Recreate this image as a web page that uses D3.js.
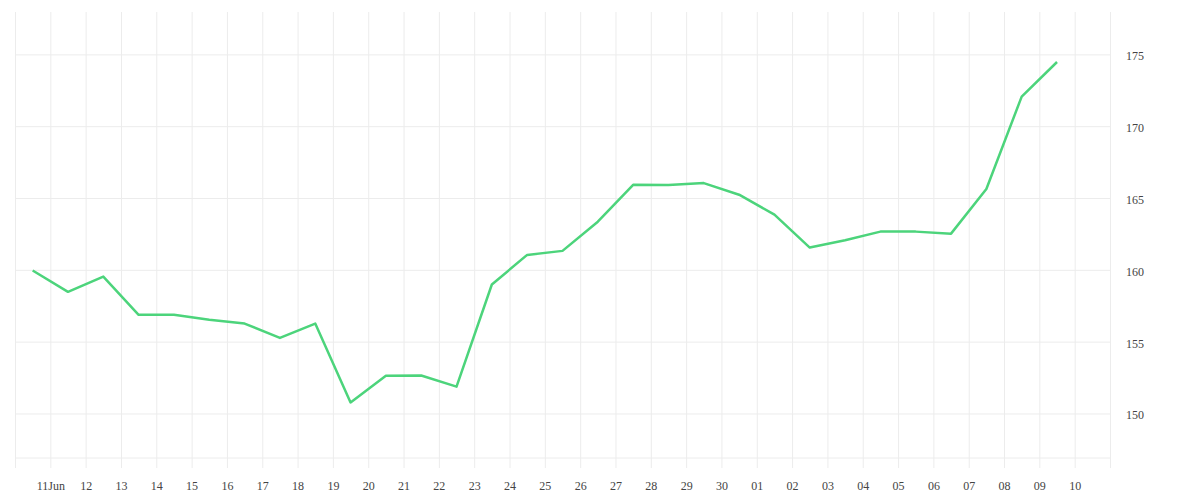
<!DOCTYPE html>
<html>
<head>
<meta charset="utf-8">
<script src="https://cdn.jsdelivr.net/npm/d3@7"></script>
<style>
    body { margin: 0; background: #fff; }
    .axis text { font-family: "Liberation Serif", serif; font-size: 12px; fill: #444; }
    .axis line { stroke: #ececec; stroke-width: 1; }
    .axis path { display: none; }
</style>
</head>
<body>
<div id="chart"></div>
<script>
// daily points, plotted at noon of each day
let days = ["2023-06-10", "2023-06-11", "2023-06-12", "2023-06-13", "2023-06-14", "2023-06-15",
    "2023-06-16", "2023-06-17", "2023-06-18", "2023-06-19", "2023-06-20", "2023-06-21",
    "2023-06-22", "2023-06-23", "2023-06-24", "2023-06-25", "2023-06-26", "2023-06-27",
    "2023-06-28", "2023-06-29", "2023-06-30", "2023-07-01", "2023-07-02", "2023-07-03",
    "2023-07-04", "2023-07-05", "2023-07-06", "2023-07-07", "2023-07-08", "2023-07-09"];

let values = [159.95, 158.47, 159.53, 156.87, 156.87, 156.52, 156.26, 155.26, 156.26, 150.77,
    152.62, 152.64, 151.87, 158.98, 161.04, 161.32, 163.35, 165.92, 165.9, 166.04,
    165.23, 163.84, 161.55, 162.06, 162.66, 162.66, 162.52, 165.63, 172.06, 174.47];

// x tick labels, Jun 11 to Jul 10
let tickDays = ["2023-06-11", "2023-06-12", "2023-06-13", "2023-06-14", "2023-06-15", "2023-06-16",
    "2023-06-17", "2023-06-18", "2023-06-19", "2023-06-20", "2023-06-21", "2023-06-22",
    "2023-06-23", "2023-06-24", "2023-06-25", "2023-06-26", "2023-06-27", "2023-06-28",
    "2023-06-29", "2023-06-30", "2023-07-01", "2023-07-02", "2023-07-03", "2023-07-04",
    "2023-07-05", "2023-07-06", "2023-07-07", "2023-07-08", "2023-07-09", "2023-07-10"];
let tickLabels = ["11Jun", "12", "13", "14", "15", "16", "17", "18", "19", "20", "21", "22",
    "23", "24", "25", "26", "27", "28", "29", "30", "01", "02", "03", "04", "05", "06",
    "07", "08", "09", "10"];

let yTicks = [150, 155, 160, 165, 170, 175];

let parseDay = d3.timeParse("%Y-%m-%d");

let width = 1200, height = 500;
let plotLeft = 15, plotRight = 1110, plotTop = 12, plotBottom = 458;

let svg = d3.select("#chart").append("svg")
    .attr("width", width)
    .attr("height", height);

let xStart = parseDay("2023-06-10"), xEnd = parseDay("2023-07-11");
let x = d3.scaleTime().domain([xStart, xEnd]).range([plotLeft, plotRight]);
let y = d3.scaleLinear().domain([146.9, 177.95]).range([plotBottom, plotTop]);

let data = days.map((d, i) => ({time: d3.timeHour.offset(parseDay(d), 12), value: values[i]}));

// label lookup
let labelMap = {};
tickDays.forEach((d, i) => { labelMap[+parseDay(d)] = tickLabels[i]; });

// vertical grid + x labels (every day, edges unlabelled)
let allDays = d3.timeDay.range(xStart, d3.timeDay.offset(xEnd, 1));
svg.append("g")
    .attr("class", "x-axis axis")
    .attr("transform", "translate(0," + 468 + ")")
    .call(d3.axisBottom(x)
        .tickValues(allDays)
        .tickSize(-(468 - plotTop))
        .tickPadding(13)
        .tickFormat(d => labelMap[+d] || ""));

// horizontal grid + y labels
svg.append("g")
    .attr("class", "y-axis axis")
    .attr("transform", "translate(" + plotRight + ",0)")
    .call(d3.axisRight(y)
        .tickValues(yTicks)
        .tickSize(-(plotRight - plotLeft))
        .tickPadding(16)
        .tickFormat(d3.format("d")))
    .selectAll("text")
    .attr("dy", "0.45em");

// bottom frame line
svg.append("line")
    .attr("x1", plotLeft).attr("x2", plotRight)
    .attr("y1", y(146.9)).attr("y2", y(146.9))
    .attr("stroke", "#ececec");

// the line
let line = d3.line()
    .x(d => x(d.time))
    .y(d => y(d.value));

svg.append("path")
    .datum(data)
    .attr("d", line)
    .attr("fill", "none")
    .attr("stroke", "#4cd47b")
    .attr("stroke-width", 2.5)
    .attr("stroke-linejoin", "round");
</script>
</body>
</html>
